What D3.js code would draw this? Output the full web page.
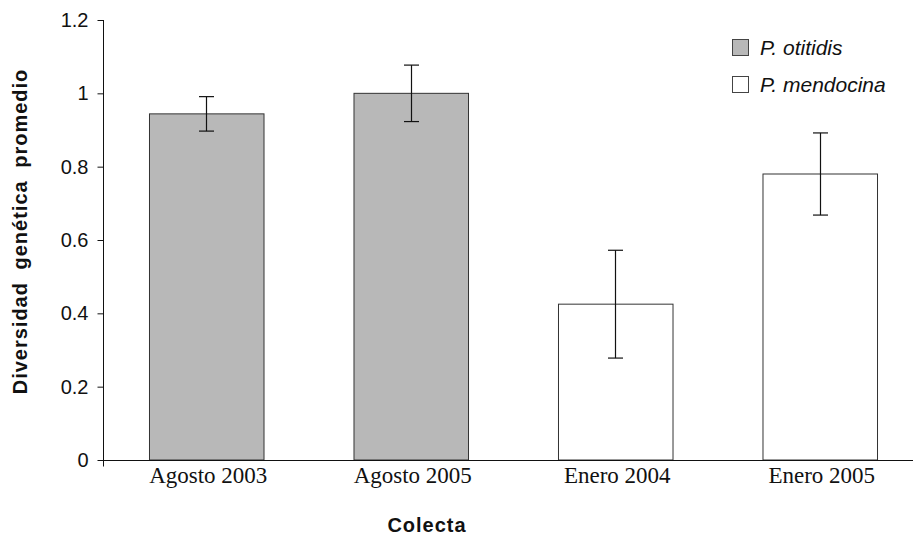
<!DOCTYPE html>
<html>
<head>
<meta charset="utf-8">
<script src="https://cdn.jsdelivr.net/npm/d3@7"></script>
<style>
  html, body { margin: 0; padding: 0; background: #fff; }
  svg { display: block; }
</style>
</head>
<body>
<svg id="chart" width="913" height="538"></svg>
<script>
// ---- data ----
const categories = ["Agosto 2003", "Agosto 2005", "Enero 2004", "Enero 2005"];
const species = ["P. otitidis", "P. otitidis", "P. mendocina", "P. mendocina"];
const means = [0.944, 1.0, 0.425, 0.780];
const errors = [0.047, 0.077, 0.147, 0.112];
const legendLabels = ["P. otitidis", "P. mendocina"];
const yTicks = [0, 0.2, 0.4, 0.6, 0.8, 1, 1.2];
const yTitle = "Diversidad genética promedio";
const xTitle = "Colecta";

const colors = { "P. otitidis": "#b8b8b8", "P. mendocina": "#ffffff" };

const svg = d3.select("#chart");
const axisLeftX = 103, axisBottomY = 460, axisTopY = 20;

const y = d3.scaleLinear().domain([0, 1.2]).range([axisBottomY, axisTopY]);
const x = d3.scaleBand().domain(categories).range([104, 922])
  .paddingInner(0.44).paddingOuter(0.22);

const data = categories.map((c, i) => ({ cat: c, sp: species[i], v: means[i], e: errors[i] }));

// bars
svg.append("g").selectAll("rect").data(data).join("rect")
  .attr("x", d => x(d.cat) + 0.5)
  .attr("y", d => y(d.v))
  .attr("width", x.bandwidth())
  .attr("height", d => axisBottomY - y(d.v))
  .attr("fill", d => colors[d.sp])
  .attr("stroke", "#333")
  .attr("stroke-width", 1);

// error bars
const eb = svg.append("g").attr("stroke", "#111").attr("stroke-width", 1.2);
data.forEach(d => {
  const cx = Math.round(x(d.cat) + x.bandwidth() / 2) + 0.5;
  eb.append("line").attr("x1", cx).attr("x2", cx).attr("y1", y(d.v + d.e)).attr("y2", y(d.v - d.e));
  eb.append("line").attr("x1", cx - 7.5).attr("x2", cx + 7.5).attr("y1", y(d.v + d.e)).attr("y2", y(d.v + d.e));
  eb.append("line").attr("x1", cx - 7.5).attr("x2", cx + 7.5).attr("y1", y(d.v - d.e)).attr("y2", y(d.v - d.e));
});

// y axis
const yAxis = d3.axisLeft(y).tickValues(yTicks).tickSize(6).tickPadding(9)
  .tickFormat(d => d3.format("~g")(d));
const gy = svg.append("g").attr("transform", `translate(${axisLeftX + 0.5},0)`).call(yAxis);
gy.select(".domain").attr("d", `M0,${axisTopY}V${axisBottomY}`).attr("stroke", "#111");
gy.selectAll(".tick line").attr("stroke", "#111");
gy.selectAll(".tick text").attr("font-family", "Liberation Sans, Arial, sans-serif")
  .attr("font-size", 20).attr("fill", "#111");

// x axis
const gx = svg.append("g").attr("transform", `translate(0,${axisBottomY + 0.5})`)
  .call(d3.axisBottom(x).tickSize(0).tickPadding(6));
gx.select(".domain").attr("d", `M${axisLeftX},0H913`).attr("stroke", "#111");
gx.selectAll(".tick text").attr("font-family", "Liberation Serif, Times New Roman, serif")
  .attr("font-size", 23).attr("fill", "#111").attr("dy", "0.71em")
  .attr("dx", 2);
gx.append("line").attr("x1", axisLeftX + 0.5).attr("x2", axisLeftX + 0.5)
  .attr("y1", 0).attr("y2", 6).attr("stroke", "#111");

// axis titles
svg.append("text")
  .attr("transform", `translate(27,${231.5}) rotate(-90)`)
  .attr("text-anchor", "middle")
  .attr("font-family", "Liberation Sans, Arial, sans-serif")
  .attr("font-weight", "bold").attr("font-size", 20)
  .attr("letter-spacing", "1px").attr("word-spacing", "6px")
  .attr("fill", "#111")
  .text(yTitle);

svg.append("text")
  .attr("x", 427).attr("y", 532)
  .attr("text-anchor", "middle")
  .attr("font-family", "Liberation Sans, Arial, sans-serif")
  .attr("font-weight", "bold").attr("font-size", 20)
  .attr("letter-spacing", "1px")
  .attr("fill", "#111")
  .text(xTitle);

// legend
const lg = svg.append("g");
legendLabels.forEach((lab, i) => {
  const yy = 39 + i * 37;
  lg.append("rect").attr("x", 732.5).attr("y", yy + 0.5).attr("width", 16).attr("height", 16)
    .attr("fill", colors[lab]).attr("stroke", "#444").attr("stroke-width", 1);
  lg.append("text").attr("x", 760).attr("y", yy + 16)
    .attr("font-family", "Liberation Sans, Arial, sans-serif")
    .attr("font-style", "italic").attr("font-size", 21).attr("fill", "#111")
    .text(lab);
});
</script>
</body>
</html>
